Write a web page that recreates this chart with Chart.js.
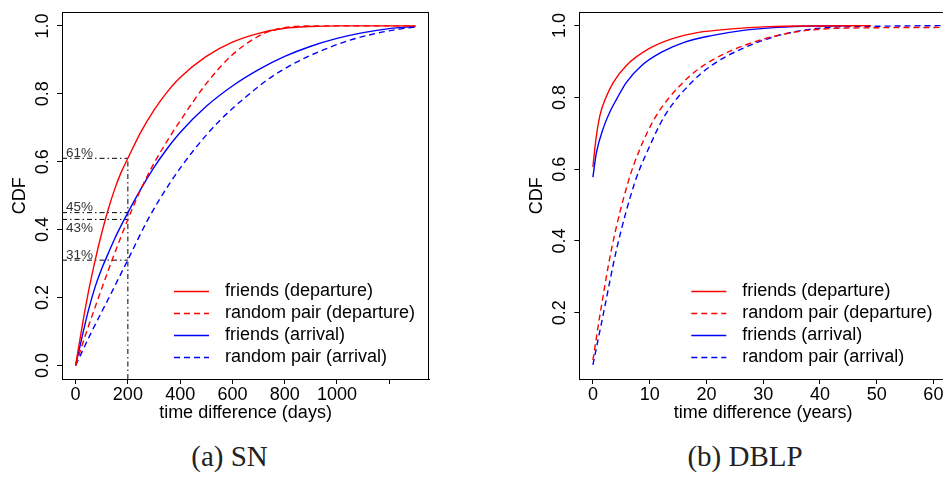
<!DOCTYPE html>
<html><head><meta charset="utf-8">
<script src="https://cdn.jsdelivr.net/npm/chart.js@4.4.1/dist/chart.umd.min.js"></script>
<style>
html,body{margin:0;padding:0;background:#fff;overflow:hidden;}
#wrap{position:relative;width:943px;height:478px;overflow:hidden;background:#fff;}
#c1{position:absolute;left:0;top:0;}
#c2{position:absolute;left:470px;top:0;}
.cap{position:absolute;top:441px;font-family:"Liberation Serif",serif;font-size:29px;line-height:30px;color:#222;white-space:nowrap;transform:translateX(-50%);}
</style></head><body>
<div id="wrap">
<canvas id="c1" width="470" height="430"></canvas>
<canvas id="c2" width="518" height="430"></canvas>
<div class="cap" style="left:229.5px">(a) SN</div>
<div class="cap" style="left:745px">(b) DBLP</div>
</div>
<script>
// ---------- data: SN (days) ----------
const snFriendsDepX = [0, 25, 50, 75, 100, 125, 150, 175, 200, 250, 300, 350, 400, 500, 600, 700, 800, 900, 1000, 1300];
const snFriendsDepY = [0, 0.115, 0.22, 0.31, 0.39, 0.46, 0.52, 0.57, 0.61, 0.688, 0.752, 0.805, 0.848, 0.91, 0.952, 0.978, 0.993, 0.998, 1.0, 1.0];
const snRandomDepX = [0, 41, 85, 140, 200, 260, 328, 400, 500, 600, 700, 750, 800, 900, 1300];
const snRandomDepY = [0, 0.097, 0.194, 0.311, 0.43, 0.536, 0.633, 0.72, 0.83, 0.915, 0.97, 0.986, 0.995, 1.0, 1.0];
const snFriendsArrX = [0, 25, 50, 75, 100, 125, 150, 175, 200, 250, 300, 350, 400, 500, 600, 700, 800, 900, 1000, 1100, 1200, 1300];
const snFriendsArrY = [0, 0.085, 0.165, 0.232, 0.285, 0.33, 0.374, 0.413, 0.45, 0.52, 0.583, 0.638, 0.686, 0.763, 0.823, 0.871, 0.91, 0.94, 0.963, 0.98, 0.992, 0.998];
const snRandomArrX = [0, 60, 124, 200, 277, 360, 451, 550, 650, 750, 850, 950, 1050, 1150, 1250, 1300];
const snRandomArrY = [0, 0.097, 0.194, 0.311, 0.43, 0.536, 0.633, 0.72, 0.79, 0.85, 0.895, 0.93, 0.958, 0.978, 0.992, 0.997];

const snXTicks = [0, 200, 400, 600, 800, 1000, 1200];
const snXTickLabels = ['0', '200', '400', '600', '800', '1000', ''];
const snYTicks = [0, 0.2, 0.4, 0.6, 0.8, 1.0];
const snYTickLabels = ['0.0', '0.2', '0.4', '0.6', '0.8', '1.0'];
const snXRange = [-52, 1352];
const snYRange = [-0.04, 1.04];

// annotation at 200 days
const annDay = 200;
const annLevels = [0.61, 0.45, 0.43, 0.31];
const annLabels = ['61%', '45%', '43%', '31%'];
const annLabelSide = ['above', 'above', 'below', 'above'];

// ---------- data: DBLP (years) ----------
const dbFriendsDepX = [0, 0.5, 1.24, 2.3, 3.6, 5.9, 9.8, 13.9, 18.6, 23.9, 31, 40, 49];
const dbFriendsDepY = [0.606, 0.68, 0.75, 0.80, 0.842, 0.889, 0.935, 0.963, 0.981, 0.99, 0.997, 0.999, 1.0];
const dbRandomDepX = [0, 1.24, 3.3, 6.2, 8.3, 11.2, 15.9, 19.5, 25.1, 32.4, 40, 50, 62];
const dbRandomDepY = [0.068, 0.194, 0.379, 0.564, 0.657, 0.75, 0.842, 0.889, 0.935, 0.972, 0.99, 0.994, 0.995];
const dbFriendsArrX = [0, 0.6, 1.8, 3, 4.2, 5.9, 8.6, 12.1, 16.2, 20.9, 26.2, 32.6, 40, 45];
const dbFriendsArrY = [0.578, 0.645, 0.713, 0.76, 0.796, 0.842, 0.889, 0.926, 0.954, 0.972, 0.986, 0.995, 0.999, 1.0];
const dbRandomArrX = [0, 1.8, 4.2, 7.4, 9.8, 12.7, 17.4, 20.9, 26.2, 32.6, 40, 50, 62];
const dbRandomArrY = [0.055, 0.194, 0.379, 0.564, 0.657, 0.75, 0.842, 0.889, 0.935, 0.972, 0.993, 0.998, 1.0];

const dbXTicks = [0, 10, 20, 30, 40, 50, 60];
const dbXTickLabels = ['0', '10', '20', '30', '40', '50', '60'];
const dbYTicks = [0.2, 0.4, 0.6, 0.8, 1.0];
const dbYTickLabels = ['0.2', '0.4', '0.6', '0.8', '1.0'];
const dbXRange = [-2.4, 62.4];
const dbYRange = [0.0156, 1.037];

const legendLabels = ['friends (departure)', 'random pair (departure)', 'friends (arrival)', 'random pair (arrival)'];
const seriesColors = ['#ff0000', '#ff0000', '#0000ff', '#0000ff'];
const seriesDash = [[], [6, 4], [], [6, 4]];

// ---------- helpers ----------
const FONT = 'Liberation Sans, Arial, sans-serif';
const pts = (xs, ys) => xs.map((x, i) => ({x: x, y: ys[i]}));

function curveDatasets(list) {
  return list.map((d, i) => ({
    label: legendLabels[i],
    data: pts(d[0], d[1]),
    borderColor: seriesColors[i],
    borderDash: seriesDash[i],
    borderWidth: 1.4,
    pointRadius: 0,
    fill: false,
    cubicInterpolationMode: 'monotone',
    isSeries: true
  }));
}

const boxPlugin = {
  id: 'rbox',
  afterDraw(chart) {
    const {ctx, chartArea: a} = chart;
    ctx.save();
    ctx.strokeStyle = '#000';
    ctx.lineWidth = 1;
    ctx.strokeRect(Math.round(a.left) + 0.5, Math.round(a.top) + 0.5,
      Math.round(a.right - a.left) - 1, Math.round(a.bottom - a.top));
    // legend
    const ds = chart.data.datasets.filter(d => d.isSeries);
    ctx.font = '18px ' + FONT;
    ctx.textBaseline = 'middle';
    ctx.fillStyle = '#000';
    ds.forEach((d, i) => {
      const y = Math.round(a.bottom - 88 + i * 21.9) + 0.5;
      const x0 = a.left + 112;
      ctx.beginPath();
      ctx.setLineDash(d.borderDash);
      ctx.strokeStyle = d.borderColor;
      ctx.lineWidth = 1.4;
      ctx.moveTo(x0, y);
      ctx.lineTo(x0 + 35, y);
      ctx.stroke();
      ctx.setLineDash([]);
      ctx.fillText(d.label, a.left + 163, y);
    });
    // annotation labels
    const opts = chart.options.plugins.rbox || {};
    if (opts.annotate) {
      const ys = chart.scales.y;
      ctx.font = '13.5px ' + FONT;
      ctx.fillStyle = '#333';
      ctx.textBaseline = 'alphabetic';
      annLevels.forEach((lv, i) => {
        const py = ys.getPixelForValue(lv);
        const ty = annLabelSide[i] === 'above' ? py - 1.5 : py + 12.5;
        ctx.fillText(annLabels[i], a.left + 4, ty);
      });
    }
    ctx.restore();
  }
};

function axisCommon(ticks, labels, range) {
  return {
    type: 'linear', min: range[0], max: range[1],
    afterBuildTicks: s => { s.ticks = ticks.map(v => ({value: v})); },
    grid: {display: true, drawOnChartArea: false, drawTicks: true, tickLength: 5, color: '#000', lineWidth: 1},
    border: {display: true, color: '#000', width: 1},
  };
}

function makeChart(canvas, cfg) {
  const xAxis = Object.assign(axisCommon(cfg.xTicks, cfg.xLabels, cfg.xRange), {
    afterFit: s => { s.height = 51; },
    ticks: {font: {family: FONT, size: 18}, color: '#000', padding: 0, maxRotation: 0, minRotation: 0, autoSkip: false,
      callback: (v, i) => cfg.xLabels[i]},
    title: {display: true, text: cfg.xTitle, color: '#000', font: {family: FONT, size: 18}, padding: {top: 0, bottom: 6}}
  });
  const yAxis = Object.assign(axisCommon(cfg.yTicks, cfg.yLabels, cfg.yRange), {
    afterFit: s => { s.width = 62; },
    ticks: {font: {family: FONT, size: 18}, color: '#000', padding: 1.5, minRotation: 90, maxRotation: 90,
      crossAlign: 'center', autoSkip: false, callback: (v, i) => cfg.yLabels[i]},
    title: {display: true, text: 'CDF', color: '#000', font: {family: FONT, size: 18}, padding: {top: 9, bottom: 0}}
  });
  return new Chart(canvas, {
    type: 'line',
    data: {datasets: cfg.datasets},
    options: {
      responsive: false, animation: false, devicePixelRatio: 1,
      layout: {padding: {left: cfg.padLeft, top: 12, right: 41, bottom: 0}},
      plugins: {legend: {display: false}, tooltip: {enabled: false}, rbox: {annotate: cfg.annotate}},
      scales: {x: xAxis, y: yAxis}
    },
    plugins: [boxPlugin]
  });
}

// SN datasets + annotation lines
const snSets = curveDatasets([
  [snFriendsDepX, snFriendsDepY], [snRandomDepX, snRandomDepY],
  [snFriendsArrX, snFriendsArrY], [snRandomArrX, snRandomArrY]
]);
const annStyle = {borderColor: '#000', borderWidth: 1, borderDash: [5, 3, 1.5, 3], pointRadius: 0, fill: false, tension: 0};
annLevels.forEach(lv => {
  snSets.push(Object.assign({data: [{x: snXRange[0], y: lv}, {x: annDay, y: lv}]}, annStyle));
});
snSets.push(Object.assign({data: [{x: annDay, y: snYRange[0]}, {x: annDay, y: Math.max(...annLevels)}]}, annStyle));

makeChart(document.getElementById('c1'), {
  datasets: snSets, xTicks: snXTicks, xLabels: snXTickLabels, xRange: snXRange,
  yTicks: snYTicks, yLabels: snYTickLabels, yRange: snYRange,
  xTitle: 'time difference (days)', padLeft: 0, annotate: true
});

const dbSets = curveDatasets([
  [dbFriendsDepX, dbFriendsDepY], [dbRandomDepX, dbRandomDepY],
  [dbFriendsArrX, dbFriendsArrY], [dbRandomArrX, dbRandomArrY]
]);
makeChart(document.getElementById('c2'), {
  datasets: dbSets, xTicks: dbXTicks, xLabels: dbXTickLabels, xRange: dbXRange,
  yTicks: dbYTicks, yLabels: dbYTickLabels, yRange: dbYRange,
  xTitle: 'time difference (years)', padLeft: 47.3, annotate: false
});
</script>
</body></html>
